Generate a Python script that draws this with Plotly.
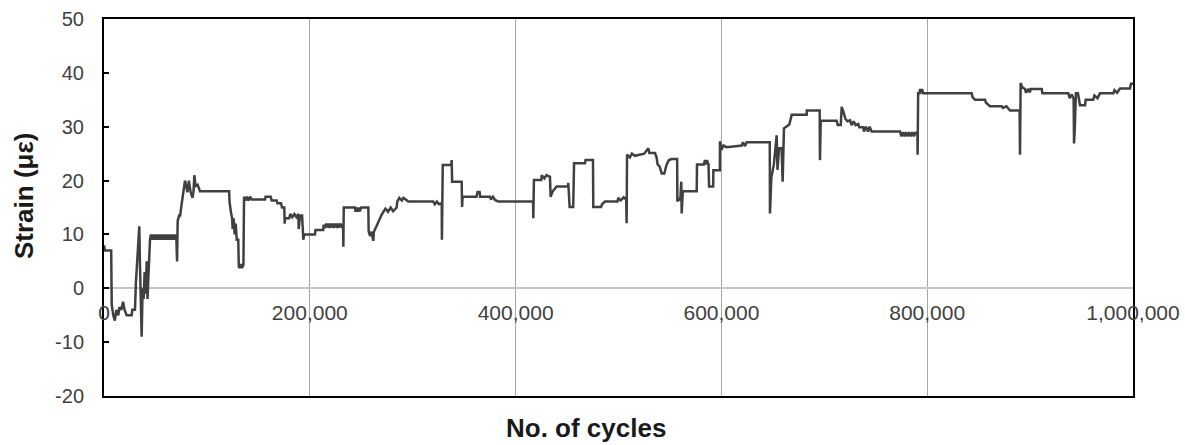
import plotly.graph_objects as go

# ---- data ----
cycles = [
    0, 1000, 7000, 7500, 9000, 10500, 12000, 13900, 15000, 17000, 18500, 20000, 22000, 26900,
    27500, 30100, 31000, 32500, 33500, 34300, 35000, 36600, 37500, 38500, 39500, 40500, 41500,
    42300, 43100, 43800, 44700, 45500, 46300, 47100, 47900, 48700, 49500, 50300, 51100, 51900,
    52700, 53500, 54300, 55100, 55900, 56700, 57500, 58300, 59100, 59900, 60700, 61500, 62300,
    63100, 63900, 64700, 65500, 66300, 67100, 67900, 68700, 69500, 70300, 71000, 71600, 73000,
    74000, 75000, 76500, 77500, 78700, 80000,
    81000, 82500, 84000, 86000, 87000, 87800, 89000, 91000, 93300, 121600, 122000, 123500,
    124500, 125000, 126000, 127000, 128000, 129000, 130500, 131000, 132000, 133000, 134000,
    135500, 136100, 137500, 139000, 140500, 142000, 143500, 156500, 157000, 162000, 163000,
    167800, 168500, 172000, 173000, 175200, 175600, 176000, 180000, 181000, 183000, 185000,
    187000, 188900, 189200, 190500, 192500, 193700, 194500, 205000, 205500, 213000, 213500,
    215000, 216000, 217000, 218000, 219000, 220000, 221000, 222000, 223000, 224000, 225000,
    226000, 227000, 228000, 229000, 230000, 231000, 232400, 232600, 233000,
    243900, 244500, 245500, 246500, 247500, 248500, 250000, 256900, 257200, 258500, 260000,
    261200, 261700, 262300, 264500, 266500, 269900, 271500, 273500, 276000, 278500, 281000,
    284400, 285000, 287000, 289500, 291000, 295700, 320000, 321500, 323500, 325500, 328200,
    328400, 329200, 337500, 337900, 338300, 347600, 348000, 348500, 362000, 363000, 365000,
    365500, 375100, 376000, 378000, 380000, 383200, 417000, 417200, 417800, 425000, 425400,
    428000, 430000, 433400, 434000, 436000, 439900, 451000, 451200, 452500, 456000, 456800,
    467400, 468000, 475200, 475500, 483000, 484000, 486900, 499000, 499800, 502000, 505000,
    507500, 507900, 508300, 511000, 513000, 516000, 525000, 529000, 530000, 535500, 537000,
    538000, 540000, 542000, 544500, 546800, 549000, 551700, 557000, 557200, 558500, 560000,
    561000, 561400, 562500, 576000, 576300, 583000, 584000, 585000, 586000, 587500, 588000,
    592000, 592200, 598500, 598600, 600000, 602000, 605100, 619700, 621000, 623000, 624600,
    647000, 647200, 648500, 651000, 653700, 654500, 656000, 658500, 659500, 660800, 663000,
    666000, 668300, 682900, 683000, 695500, 695800, 696500, 712000, 713000, 716000, 716900,
    718500, 720500, 722500, 725000, 726500, 728500, 730500, 733000, 734000, 737900, 738500,
    740500, 742500, 744000, 746000, 773600, 775000, 776500, 778000, 779500, 781000, 782500,
    784000, 785500, 787000, 788500, 790500, 790700, 791200, 792500, 793000, 794000, 795000,
    796000, 843200, 844000, 846500, 856200, 857000, 861000, 872400, 873500, 877000, 880500,
    889800, 890200, 890800, 892500, 895000, 896000, 898000, 899900, 900500, 911300, 912000,
    937100, 938500, 940500, 942300, 942700, 943500, 944500, 946500, 948500, 953400, 954000,
    961400, 962500, 965500, 967900, 980900, 982000, 984500, 987400, 997100, 998000, 1000000,
]
strain = [
    8, 7, 7, -3, -5, -6, -4, -5, -3.5, -4, -2.5, -4, -5, -5,
    -4, -4, 1, 6, 10, 11.5, 4, -9, 0, -2, 3, -1, 5,
    -2, 2, 7, 9, 10, 9, 10, 9, 10, 9, 10, 9, 10,
    9, 10, 9, 10, 9, 10, 9, 10, 9, 10, 9, 10, 9,
    10, 9, 10, 9, 10, 9, 10, 9, 10, 9.5, 5, 12.5, 13.5,
    13.5, 15, 17, 18.5, 20, 19,
    17.8, 20, 18, 16.8, 18, 21, 19, 19.2, 18, 18, 16, 14,
    13, 11, 13, 10, 12, 9, 9, 4, 3.8, 4.5, 3.8,
    4.3, 17, 16.3, 17, 16.3, 17, 16.5, 16.5, 17, 17, 16.3,
    16.3, 15.8, 15.8, 15, 15, 12, 13, 13, 13.8, 13.2, 13.8,
    13.2, 13.8, 11, 13.5, 13.5, 9, 10, 10, 10.8, 10.8, 11.8,
    11.2, 12, 11.3, 12, 11.2, 12, 11.3, 12, 11.2, 12, 11.3,
    12, 11.2, 12, 11.3, 12, 11.6, 11, 7.7, 15,
    15, 14.2, 15, 14.2, 15, 14.3, 15, 15, 10.6, 9.7, 10.5,
    9.6, 8.8, 10.5, 11.5, 12.5, 13.7, 14.2, 14.8, 14.2, 15, 14.3,
    15, 16.1, 16.8, 16.3, 16.8, 16.1, 16.1, 15.6, 16.1, 15.6, 15.8,
    9, 22.9, 22.9, 23.8, 19.8, 19.8, 15.1, 17, 17, 17.9, 17.9,
    17, 17, 16.5, 17, 16.4, 16.1, 16.1, 13, 20.1, 20.1, 21,
    20.4, 21, 20.7, 17, 18, 18.9, 18.9, 19.6, 15.1, 15.1, 23.2,
    23.2, 23.8, 23.8, 15.1, 15.1, 15.6, 16.1, 16.1, 16.8, 16.3, 16.9,
    16.5, 12.1, 24.8, 24.3, 25, 24.6, 25, 26, 25.1, 25.1, 24.3,
    23, 22.6, 21.3, 21.3, 23, 23.8, 24, 24, 16.1, 16.8, 16.3,
    19.8, 13.9, 18, 18, 23, 23, 23.8, 23, 23.8, 23, 18.9,
    18.9, 21.9, 21.9, 27.3, 25.7, 26.5, 26.2, 26.5, 27.1, 26.4, 27.1,
    27.1, 13.9, 20.5, 23, 28.4, 22, 26, 26, 19.8, 29.7, 30,
    30.4, 32.2, 32.2, 33, 33, 23.8, 31.1, 31.1, 30.3, 30.3, 33.7,
    32.8, 31.5, 31, 31.2, 30.3, 31, 30.3, 30.5, 29.9, 29.9, 29.1,
    30, 29.1, 30, 29.1, 29.1, 28.2, 29, 28.2, 29, 28.2, 29,
    28.2, 29, 28.2, 29, 28.4, 24.8, 36.2, 36.2, 37, 36.2, 37,
    36.2, 36.2, 35.5, 35, 35, 34.5, 33.8, 33.8, 33.5, 33.8, 33,
    33, 24.8, 38.1, 37.3, 37, 36.3, 37, 36.4, 37, 37, 36.2,
    36.2, 35.3, 36, 35.2, 26.9, 30, 36.2, 36.2, 34, 34, 35,
    35, 35.8, 35.3, 36.2, 36.2, 36.8, 36.3, 37.1, 37.1, 38, 38,
]

x_tick_vals = [0, 200000, 400000, 600000, 800000, 1000000]
x_tick_text = ["0", "200,000", "400,000", "600,000", "800,000", "1,000,000"]
y_tick_vals = [-20, -10, 0, 10, 20, 30, 40, 50]
y_tick_text = ["-20", "-10", "0", "10", "20", "30", "40", "50"]

x_title = "No. of cycles"
y_title = "Strain (με)"

fig = go.Figure()
fig.add_trace(go.Scatter(
    x=cycles, y=strain, mode="lines",
    line=dict(color="#404040", width=2.5),
    showlegend=False,
))
# invisible trace carrying the tick-label axis placed at y = 0
fig.add_trace(go.Scatter(
    x=[0], y=[None], xaxis="x2", mode="lines",
    showlegend=False, hoverinfo="skip",
))

fam = "Arial, Liberation Sans, sans-serif"
y_tick_font = dict(family=fam, size=20, color="#404040")
x_tick_font = dict(family=fam, size=21, color="#404040")
title_font = dict(family=fam, size=26, color="#1a1a1a")

ymin, ymax = -20, 50

fig.update_layout(
    width=1185, height=445,
    margin=dict(l=104, r=52, t=19, b=49, pad=0, autoexpand=False),
    paper_bgcolor="white", plot_bgcolor="white",
    xaxis=dict(
        range=[0, 1000000], tickvals=x_tick_vals, showticklabels=False,
        showgrid=True, gridcolor="#a6a6a6", gridwidth=1,
        showline=True, linecolor="black", linewidth=2, mirror=True,
        ticks="", zeroline=False, automargin=False,
    ),
    xaxis2=dict(
        range=[0, 1000000], overlaying="x", anchor="free",
        position=(0 - ymin) / (ymax - ymin),
        tickvals=x_tick_vals, ticktext=x_tick_text, tickfont=x_tick_font,
        showgrid=False, showline=False, ticks="", zeroline=False,
        ticklabelstandoff=10, automargin=False,
    ),
    yaxis=dict(
        range=[ymin, ymax], tickvals=y_tick_vals, ticktext=y_tick_text,
        tickfont=y_tick_font,
        showgrid=False, zeroline=True, zerolinecolor="#c4c4c4", zerolinewidth=1.5,
        showline=True, linecolor="black", linewidth=2, mirror=True,
        ticks="inside", ticklen=5, tickwidth=1.5, tickcolor="black",
        ticklabelstandoff=14, automargin=False,
    ),
    annotations=[
        dict(text="<b>" + x_title + "</b>", xref="paper", yref="paper",
             x=(586 - 104) / 1029, y=(396 - 428) / 377,
             xanchor="center", yanchor="middle", showarrow=False, font=title_font),
        dict(text="<b>" + y_title + "</b>", xref="paper", yref="paper",
             x=(24 - 104) / 1029, y=(396 - 196) / 377, textangle=-90,
             xanchor="center", yanchor="middle", showarrow=False, font=title_font),
    ],
)

fig.write_html(
    "out.html",
    config={"displayModeBar": False},
    post_script=(
        "document.body.style.margin='0';"
        "document.body.style.overflow='hidden';"
        "var d=document.getElementById('{plot_id}');"
        "d.style.position='fixed';d.style.top='0px';d.style.left='0px';"
    ),
)
